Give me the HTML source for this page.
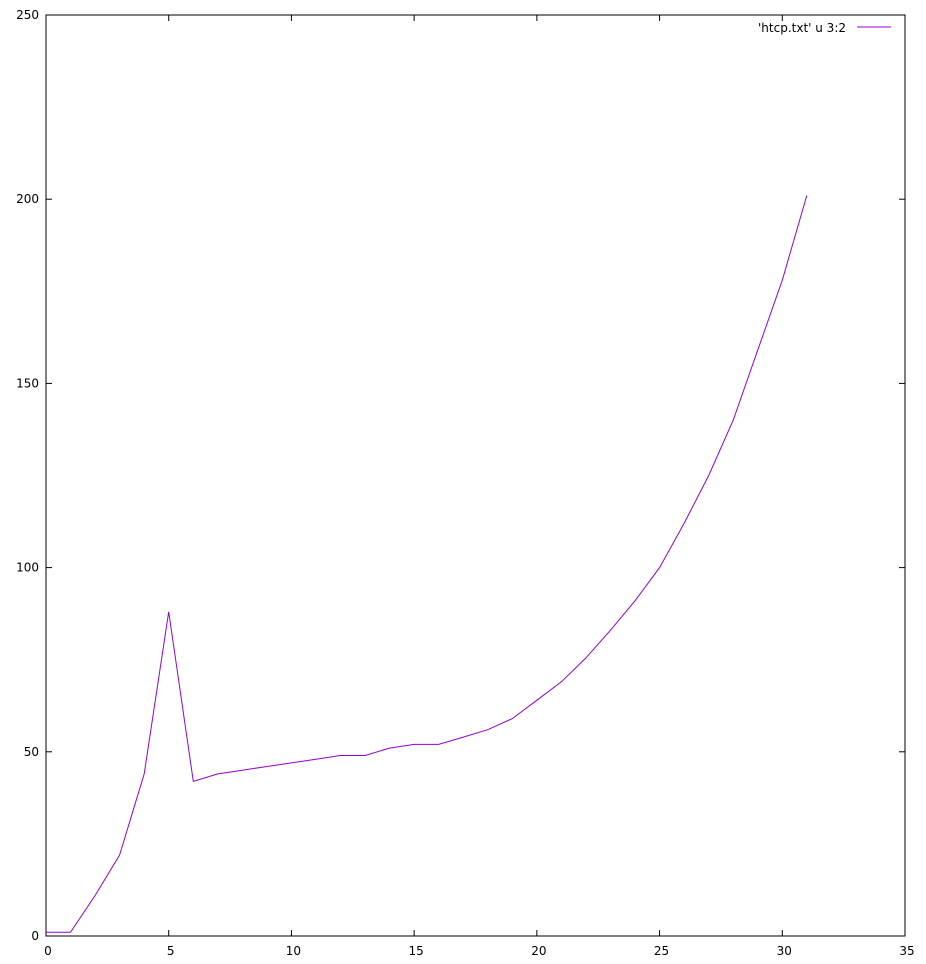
<!DOCTYPE html>
<html><head><meta charset="utf-8"><style>
body{margin:0;background:#fff}
svg{display:block;font-family:"DejaVu Sans","Liberation Sans",sans-serif;font-size:12px}
</style></head><body>
<svg id="chart" width="926" height="964">
<g id="axes"></g>
<rect x="46" y="15" width="859" height="921" fill="none" stroke="#000" stroke-width="1"/>
<text x="846" y="32" text-anchor="end">'htcp.txt' u 3:2</text>
<line x1="857" y1="27" x2="891" y2="27" stroke="#9400d3" stroke-width="1"/>
<path id="series" fill="none" stroke="#9400d3" stroke-width="1"/>
</svg>
<script>
const xValues=[0,1,2,3,4,5,6,7,8,9,10,11,12,13,14,15,16,17,18,19,20,21,22,23,24,25,26,27,28,29,30,31];
const yValues=[1,1,11,22,44,88,42,44,45,46,47,48,49,49,51,52,52,54,56,59,64,69,75.5,83,91,100,112,125,140,159,178,201];
const xTicks=[0,5,10,15,20,25,30,35];
const yTicks=[0,50,100,150,200,250];
const X0=46,X1=905,Y0=936,Y1=15;
const sx=v=>X0+(v-0)/35*(X1-X0);
const sy=v=>Y0-(v-0)/250*(Y0-Y1);
const ns="http://www.w3.org/2000/svg";
const axes=document.getElementById('axes');
function mk(tag,attrs){const e=document.createElementNS(ns,tag);for(const k in attrs)e.setAttribute(k,attrs[k]);return e;}
xTicks.forEach(t=>{
  const x=sx(t);
  const a=mk('line',{x1:x,y1:Y0,x2:x,y2:Y0-6,stroke:'#000'});
  
  
  axes.appendChild(a);
  const b=mk('line',{x1:x,y1:Y1,x2:x,y2:Y1+6,stroke:'#000'});
  
  
  axes.appendChild(b);
  const tx=mk('text',{x:x+2,y:955,'text-anchor':'middle'});
  tx.textContent=t;
  
  
  axes.appendChild(tx);
});
yTicks.forEach(t=>{
  const y=sy(t);
  const a=mk('line',{x1:X0,y1:y,x2:X0+6,y2:y,stroke:'#000'});
  
  
  axes.appendChild(a);
  const b=mk('line',{x1:X1,y1:y,x2:X1-6,y2:y,stroke:'#000'});
  
  
  axes.appendChild(b);
  const tx=mk('text',{x:39,y:y+4,'text-anchor':'end'});
  tx.textContent=t;
  
  
  axes.appendChild(tx);
});
document.getElementById('series').setAttribute('d',xValues.map((v,i)=>(i?'L':'M')+sx(v).toFixed(1)+','+sy(yValues[i]).toFixed(1)).join(''));
</script>
</body></html>
